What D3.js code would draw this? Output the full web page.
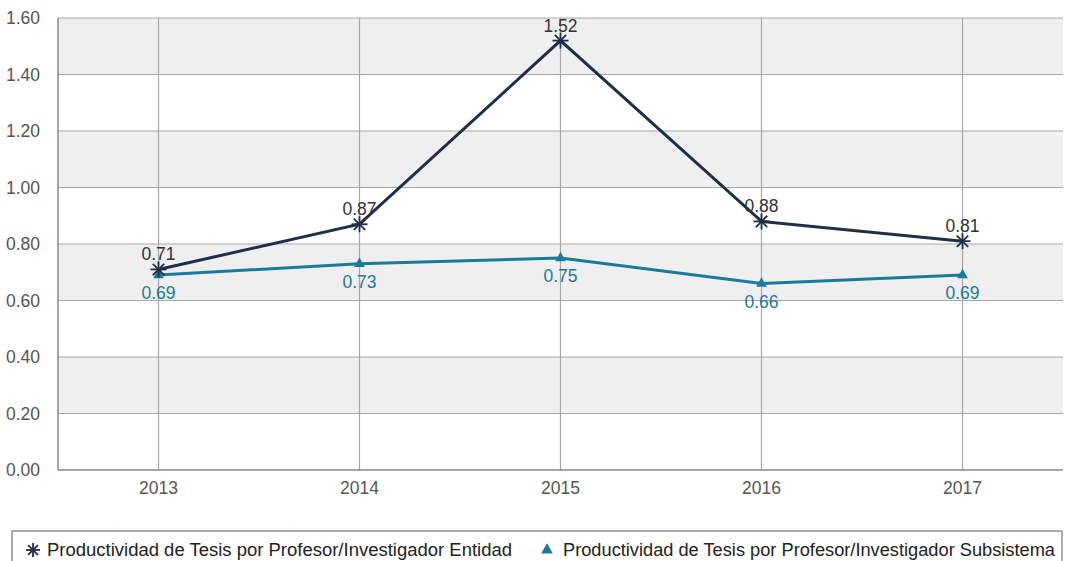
<!DOCTYPE html>
<html><head><meta charset="utf-8">
<script src="https://cdn.jsdelivr.net/npm/d3@7"></script>
<style>body{margin:0;background:#fff;}svg{display:block;font-family:"Liberation Sans",Arial,sans-serif;}</style>
</head><body><svg id="c" width="1065" height="561"></svg>
<script>
const years = ["2013","2014","2015","2016","2017"];
const entidad = [0.71,0.87,1.52,0.88,0.81];
const subsistema = [0.69,0.73,0.75,0.66,0.69];
const yTicks = [0,0.2,0.4,0.6,0.8,1.0,1.2,1.4,1.6];
const seriesNames = ["Productividad de Tesis por Profesor/Investigador Entidad","Productividad de Tesis por Profesor/Investigador Subsistema"];

const svg = d3.select("#c");
const L=58, R=1063, T=18, B=470;
const x = d3.scaleBand().domain(years).range([L,R]);
const xc = d => x(d)+x.bandwidth()/2;
const y = d3.scaleLinear().domain([0,1.6]).range([B,T]);
const FF = "Liberation Sans, Arial, sans-serif";

for(let i=0;i<yTicks.length-1;i++){
  if(i%2===1){
    svg.append("rect").attr("x",L).attr("width",R-L)
      .attr("y",y(yTicks[i+1])).attr("height",y(yTicks[i])-y(yTicks[i+1]))
      .attr("fill","#efefef");
  }
}
svg.append("g").selectAll("line").data(yTicks.slice(1)).join("line")
  .attr("x1",L).attr("x2",R).attr("y1",d=>y(d)).attr("y2",d=>y(d))
  .attr("stroke","#a8a8a8").attr("stroke-width",1.2);
svg.append("g").selectAll("line").data(years).join("line")
  .attr("x1",d=>xc(d)).attr("x2",d=>xc(d)).attr("y1",T).attr("y2",B)
  .attr("stroke","#a8a8a8").attr("stroke-width",1.2);
svg.append("line").attr("x1",L).attr("x2",L).attr("y1",T).attr("y2",B).attr("stroke","#888").attr("stroke-width",1.5);
svg.append("line").attr("x1",L).attr("x2",R).attr("y1",B).attr("y2",B).attr("stroke","#888").attr("stroke-width",1.5);

const yAxis = d3.axisLeft(y).tickValues(yTicks).tickFormat(d3.format(".2f")).tickSize(0).tickPadding(18);
const ga = svg.append("g").attr("transform",`translate(${L},0)`).call(yAxis);
ga.select(".domain").remove();
ga.selectAll("text").attr("font-size",17.5).attr("fill","#555").attr("font-family",FF);
const xAxis = d3.axisBottom(x).tickSize(0).tickPadding(12);
const gx = svg.append("g").attr("transform",`translate(0,${B})`).call(xAxis);
gx.select(".domain").remove();
gx.selectAll("text").attr("font-size",17.5).attr("fill","#555").attr("font-family",FF);

const c1="#1e2f47", c2="#1b7a9c";
const line = d3.line().x((d,i)=>xc(years[i])).y(d=>y(d));
svg.append("path").datum(subsistema).attr("d",line).attr("fill","none").attr("stroke",c2).attr("stroke-width",3);
svg.append("path").datum(entidad).attr("d",line).attr("fill","none").attr("stroke",c1).attr("stroke-width",3);

function asterisk(g,cx,cy,r,col){
  for(let k=0;k<4;k++){
    const a=k*Math.PI/4;
    g.append("line").attr("x1",cx-r*Math.cos(a)).attr("y1",cy-r*Math.sin(a))
      .attr("x2",cx+r*Math.cos(a)).attr("y2",cy+r*Math.sin(a))
      .attr("stroke",col).attr("stroke-width",1.8);
  }
}
const tri = d3.symbol().type(d3.symbolTriangle).size(50);
const gm = svg.append("g");
subsistema.forEach((v,i)=>{
  gm.append("path").attr("d",tri).attr("transform",`translate(${xc(years[i])},${y(v)})`).attr("fill",c2);
});
entidad.forEach((v,i)=>asterisk(gm,xc(years[i]),y(v),8,c1));

svg.append("g").selectAll("text").data(entidad).join("text")
  .attr("x",(d,i)=>xc(years[i])).attr("y",d=>y(d)-9).attr("text-anchor","middle")
  .attr("font-size",17.5).attr("fill","#333").text(d=>d.toFixed(2));
svg.append("g").selectAll("text").data(subsistema).join("text")
  .attr("x",(d,i)=>xc(years[i])).attr("y",d=>y(d)+24).attr("text-anchor","middle")
  .attr("font-size",17.5).attr("fill",c2).text(d=>d.toFixed(2));

svg.append("rect").attr("x",12).attr("y",531).attr("width",1050).attr("height",40)
  .attr("fill","none").attr("stroke","#777").attr("stroke-width",1.2);
const lg = svg.append("g");
asterisk(lg,33,550,7,c1);
lg.append("text").attr("x",47).attr("y",556).attr("font-size",17.5).attr("fill","#222")
  .attr("textLength",465).attr("lengthAdjust","spacingAndGlyphs").text(seriesNames[0]);
lg.append("path").attr("d",d3.symbol().type(d3.symbolTriangle).size(60)).attr("transform","translate(547,550)").attr("fill",c2);
lg.append("text").attr("x",563).attr("y",556).attr("font-size",17.5).attr("fill","#222")
  .attr("textLength",492).attr("lengthAdjust","spacingAndGlyphs").text(seriesNames[1]);
</script></body></html>
